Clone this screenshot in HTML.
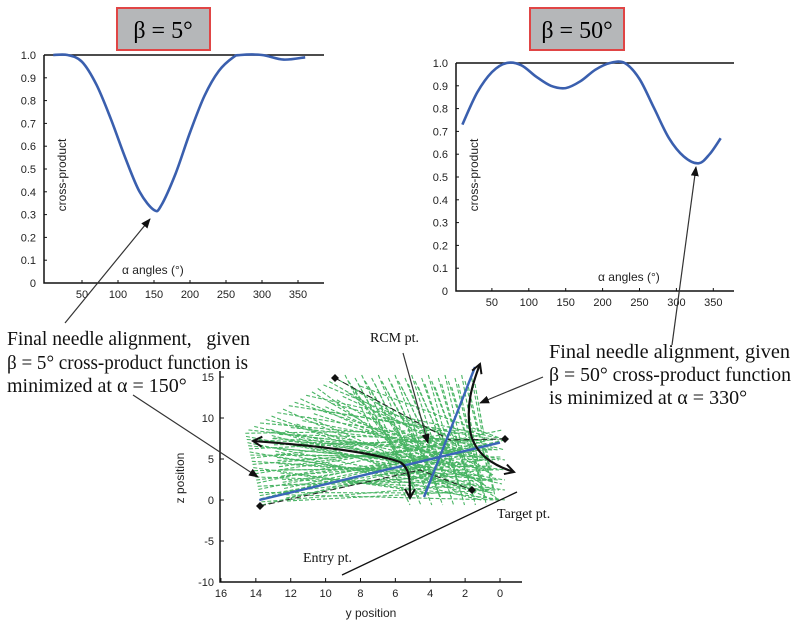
<!DOCTYPE html>
<html><head><meta charset="utf-8"><style>
body{margin:0;background:#fff}
svg{display:block}
.tk{font-family:"Liberation Sans",sans-serif;font-size:11px;fill:#222}
.al{font-family:"Liberation Sans",sans-serif;font-size:12px;fill:#222}
.ann{font-family:"Liberation Serif",serif;font-size:20px;fill:#111}
.sm{font-family:"Liberation Serif",serif;font-size:14px;fill:#111}
</style></head><body>
<svg id="s" width="800" height="629" viewBox="0 0 800 629">
<defs><marker id="ah" markerUnits="userSpaceOnUse" markerWidth="10" markerHeight="8" refX="9" refY="4" orient="auto"><path d="M0,0L10,4L0,8z" fill="#111"/></marker>
<marker id="ah2" markerUnits="userSpaceOnUse" markerWidth="12" markerHeight="12" refX="10" refY="6" orient="auto"><path d="M1,1L10,6L1,11" fill="none" stroke="#111" stroke-width="2"/></marker></defs>
<g><rect x="117" y="8" width="93" height="42" fill="#b5b7b9" stroke="#e04545" stroke-width="2"/><text x="163" y="38" text-anchor="middle" font-family="Liberation Serif,serif" font-size="24">β = 5°</text></g>
<g><rect x="530" y="8" width="94" height="42" fill="#b5b7b9" stroke="#e04545" stroke-width="2"/><text x="577" y="38" text-anchor="middle" font-family="Liberation Serif,serif" font-size="24">β = 50°</text></g>
<g id="c1"></g>
<g id="c2"></g>
<g id="c3"></g>
<g>
<text class="ann" x="7" y="345" textLength="243" lengthAdjust="spacingAndGlyphs" xml:space="preserve">Final needle alignment,   given</text>
<text class="ann" x="7" y="369" textLength="241" lengthAdjust="spacingAndGlyphs">β = 5° cross-product function is</text>
<text class="ann" x="7" y="392">minimized at α = 150°</text></g>
<g>
<text class="ann" x="549" y="358" textLength="241" lengthAdjust="spacingAndGlyphs">Final needle alignment, given</text>
<text class="ann" x="549" y="381" textLength="242" lengthAdjust="spacingAndGlyphs">β = 50° cross-product function</text>
<text class="ann" x="549" y="404">is minimized at α = 330°</text></g>
<text class="sm" x="370" y="342">RCM  pt.</text>
<text class="sm" x="497" y="518">Target pt.</text>
<text class="sm" x="303" y="562">Entry pt.</text>
<line x1="342" y1="575" x2="517" y2="492" stroke="#111" stroke-width="1.3"/>
<g stroke="#333" stroke-width="1.2">
<line x1="65" y1="323" x2="150" y2="219" marker-end="url(#ah)"/>
<line x1="672" y1="345" x2="696" y2="167" marker-end="url(#ah)"/>
<line x1="133" y1="395" x2="258" y2="477" marker-end="url(#ah)"/>
<line x1="403" y1="353" x2="428" y2="443" marker-end="url(#ah)"/>
<line x1="543" y1="377" x2="480" y2="403" marker-end="url(#ah)"/>
</g>
</svg>
<script>
const alpha1=[10,30,50,70,90,110,130,150,160,180,200,220,240,260,270,300,330,360];
const val1=[1.0,1.0,0.97,0.87,0.72,0.55,0.40,0.32,0.34,0.48,0.66,0.82,0.93,0.99,1.0,1.0,0.98,0.99];
const alpha2=[10,30,50,70,90,110,130,150,170,190,210,230,250,270,290,310,330,345,360];
const val2=[0.73,0.87,0.96,1.0,0.99,0.94,0.90,0.89,0.92,0.97,1.0,1.0,0.93,0.80,0.67,0.59,0.56,0.60,0.67];
const xTicks=[50,100,150,200,250,300,350];
const yTicks=[0,0.1,0.2,0.3,0.4,0.5,0.6,0.7,0.8,0.9,1.0];
const yTicks3=[-10,-5,0,5,10,15];
const xTicks3=[16,14,12,10,8,6,4,2,0];
const NS='http://www.w3.org/2000/svg';
function mk(p,t,a,txt){const e=document.createElementNS(NS,t);for(const k in a)e.setAttribute(k,a[k]);if(txt!==undefined)e.textContent=txt;p.appendChild(e);return e;}
function smooth(pts){let d='M'+pts[0][0].toFixed(1)+','+pts[0][1].toFixed(1);
 for(let i=0;i<pts.length-1;i++){const p0=pts[Math.max(0,i-1)],p1=pts[i],p2=pts[i+1],p3=pts[Math.min(pts.length-1,i+2)];
  d+=`C${(p1[0]+(p2[0]-p0[0])/6).toFixed(1)},${(p1[1]+(p2[1]-p0[1])/6).toFixed(1)} ${(p2[0]-(p3[0]-p1[0])/6).toFixed(1)},${(p2[1]-(p3[1]-p1[1])/6).toFixed(1)} ${p2[0].toFixed(1)},${p2[1].toFixed(1)}`;}
 return d;}
function chart(g,cfg,al,vl){
 const X=a=>cfg.x0+a*cfg.kx, Y=v=>cfg.y0-v*cfg.ky;
 let e=mk(g,'path',{d:`M${cfg.ax},${cfg.yt}V${cfg.y0}H${cfg.xe}M${cfg.ax},${cfg.yt}H${cfg.xe}`,fill:'none',stroke:'#111','stroke-width':1.5});
 
 
 xTicks.forEach(t=>{mk(g,'line',{x1:X(t),x2:X(t),y1:cfg.y0,y2:cfg.y0-3,stroke:'#111'});
  e=mk(g,'text',{class:'tk',x:X(t),y:cfg.y0+15,'text-anchor':'middle'},t);
  
  });
 yTicks.forEach(t=>{mk(g,'line',{x1:cfg.ax,x2:cfg.ax+3,y1:Y(t),y2:Y(t),stroke:'#111'});
  e=mk(g,'text',{class:'tk',x:cfg.ax-8,y:Y(t)+4,'text-anchor':'end'},t===0?'0':t.toFixed(1));
  
  });
 e=mk(g,'path',{d:smooth(al.map((a,i)=>[X(a),Y(vl[i])])),fill:'none',stroke:'#3a5fae','stroke-width':2.6,'stroke-linejoin':'round'});
 
 
 e=mk(g,'text',{class:'al',transform:`translate(${cfg.ax+22},${cfg.yl}) rotate(-90)`,'text-anchor':'middle'},'cross-product');
 
 
 e=mk(g,'text',{class:'al',x:cfg.xl,y:cfg.xly},'α angles (°)');
 
 
}
chart(document.getElementById('c1'),{x0:46,kx:0.72,y0:283,ky:228,ax:44,yt:55,xe:324,yl:175,xl:122,xly:274},alpha1,val1);
chart(document.getElementById('c2'),{x0:455,kx:0.738,y0:291,ky:228,ax:456,yt:63,xe:734,yl:175,xl:598,xly:281},alpha2,val2);
const g=document.getElementById('c3');
const PX=y=>500-y*17.44, PZ=z=>500-z*8.2;
let e=mk(g,'path',{d:`M220,${PZ(15)-6}V582H522`,fill:'none',stroke:'#111','stroke-width':1.5});


yTicks3.forEach(t=>{mk(g,'line',{x1:220,x2:224,y1:PZ(t),y2:PZ(t),stroke:'#111'});
 e=mk(g,'text',{class:'tk',x:214,y:PZ(t)+4,'text-anchor':'end'},t);
 
 });
xTicks3.forEach(t=>{mk(g,'line',{x1:PX(t),x2:PX(t),y1:582,y2:578,stroke:'#111'});
 e=mk(g,'text',{class:'tk',x:PX(t),y:597,'text-anchor':'middle'},t);
 
 });
e=mk(g,'text',{class:'al',transform:'translate(184,478) rotate(-90)','text-anchor':'middle'},'z position');


e=mk(g,'text',{class:'al',x:371,y:617,'text-anchor':'middle'},'y position');


const gl=mk(g,'g',{stroke:'#2aa84a','stroke-width':1.1,'stroke-dasharray':'4,2',opacity:0.85});


const N=40;
for(let i=0;i<N;i++){const t=i/(N-1);
 let lx,ly; if(t<0.4){const u=t/0.4;lx=335-u*90;ly=378+u*54;}else{const u=(t-0.4)/0.6;lx=245+u*17;ly=432+u*73;}
 const rx=430+((i*7)%9)*9, ry=430+((i*5)%8)*9;
 mk(gl,'line',{x1:lx,y1:ly,x2:rx,y2:ry});
 mk(gl,'line',{x1:lx+25,y1:ly+(t<0.4?8:-4),x2:505-((i*3)%5)*6,y2:440+((i*3)%7)*10});
 mk(gl,'line',{x1:345+t*130,y1:375+((i*2)%5)*3,x2:410+t*85,y2:505-((i*4)%5)*8});}
const dk=mk(g,'g',{stroke:'#222','stroke-width':1,'stroke-dasharray':'6,3',fill:'none'});


mk(dk,'path',{d:'M335,378L450,440L505,439M260,506L420,470L472,490'});
const bl=mk(g,'g',{stroke:'#3a66b8','stroke-width':2.4});


mk(bl,'line',{x1:PX(13.8),y1:PZ(0),x2:PX(0),y2:PZ(7)});
mk(bl,'line',{x1:424,y1:497,x2:475,y2:367});
const bk=mk(g,'g',{stroke:'#111','stroke-width':2.2,fill:'none'});


mk(bk,'path',{d:'M400,462C370,452 320,446 253,441','marker-end':'url(#ah2)'});
mk(bk,'path',{d:'M400,462C410,468 410,480 410,498','marker-end':'url(#ah2)'});
mk(bk,'path',{d:'M470,430C466,405 472,385 480,364','marker-end':'url(#ah2)'});
mk(bk,'path',{d:'M470,430C474,455 495,466 514,472','marker-end':'url(#ah2)'});
const dm=mk(g,'g',{fill:'#111'});


[[335,378],[505,439],[472,490],[260,506]].forEach(p=>mk(dm,'path',{d:`M${p[0]},${p[1]-4}l4,4l-4,4l-4,-4z`}));
</script>
</body></html>
